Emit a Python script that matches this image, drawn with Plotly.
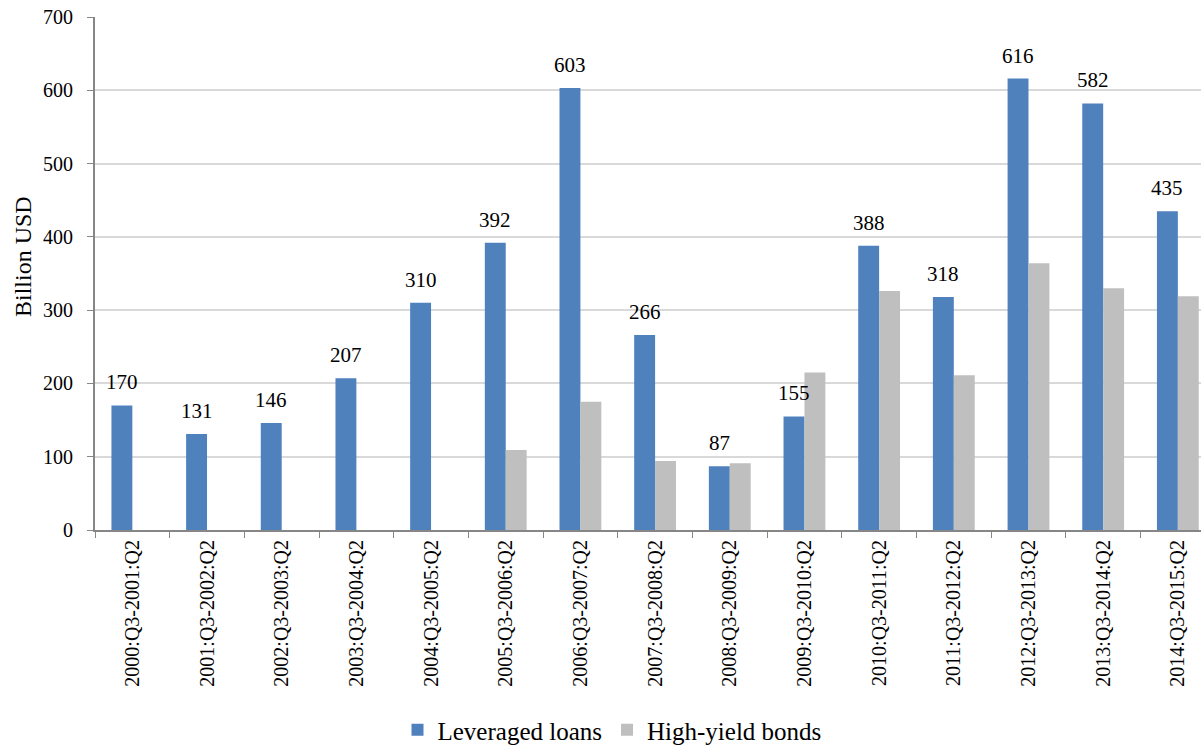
import plotly.graph_objects as go

categories = ["2000:Q3-2001:Q2", "2001:Q3-2002:Q2", "2002:Q3-2003:Q2", "2003:Q3-2004:Q2",
              "2004:Q3-2005:Q2", "2005:Q3-2006:Q2", "2006:Q3-2007:Q2", "2007:Q3-2008:Q2",
              "2008:Q3-2009:Q2", "2009:Q3-2010:Q2", "2010:Q3-2011:Q2", "2011:Q3-2012:Q2",
              "2012:Q3-2013:Q2", "2013:Q3-2014:Q2", "2014:Q3-2015:Q2"]
leveraged_loans = [170, 131, 146, 207, 310, 392, 603, 266, 87, 155, 388, 318, 616, 582, 435]
high_yield_bonds = [None, None, None, None, None, 109, 175, 94, 91, 215, 326, 211, 364, 330, 319]
y_ticks = [0, 100, 200, 300, 400, 500, 600, 700]

FONT = "Liberation Serif"

fig = go.Figure()
fig.add_trace(go.Bar(x=categories, y=leveraged_loans, name="Leveraged loans",
                     marker=dict(color="#4F81BD", line=dict(width=0))))
fig.add_trace(go.Bar(x=categories, y=high_yield_bonds, name="High-yield bonds",
                     marker=dict(color="#BFBFBF", line=dict(width=0))))

plot_left, plot_right, plot_top, plot_bottom = 95, 1201, 17, 530
pw = plot_right - plot_left
ph = plot_bottom - plot_top

annotations = []
for c, v in zip(categories, leveraged_loans):
    annotations.append(dict(x=c, y=v, xref="x", yref="y", text=str(v), showarrow=False,
                            xshift=-10.5, yshift=9, yanchor="bottom",
                            font=dict(family=FONT, size=21, color="black")))
annotations.append(dict(x=(23 - plot_left) / pw, y=(plot_bottom - 257) / ph,
                        xref="paper", yref="paper", text="Billion USD",
                        showarrow=False, textangle=-90, xanchor="center", yanchor="middle",
                        font=dict(family=FONT, size=24, color="black")))

fig.update_layout(
    width=1201, height=753,
    margin=dict(l=plot_left, r=0, t=plot_top, b=753 - plot_bottom, pad=0, autoexpand=False),
    paper_bgcolor="white", plot_bgcolor="white",
    barmode="group", bargap=0.44, bargroupgap=0,
    font=dict(family=FONT, color="black"),
    showlegend=True,
    legend=dict(orientation="h", x=(612 - plot_left) / pw, xanchor="center",
                y=(plot_bottom - 753) / ph, yanchor="bottom",
                font=dict(family=FONT, size=25, color="black"),
                itemwidth=30, tracegroupgap=0, borderwidth=0),
    annotations=annotations,
    xaxis=dict(range=[-0.5, 14.31], tickangle=-90, showline=True, linecolor="#868686",
               linewidth=2, ticks="outside", tickson="boundaries", ticklen=6,
               tickcolor="#868686", tickfont=dict(family=FONT, size=20, color="black"),
               showgrid=False, fixedrange=True, automargin=False),
    yaxis=dict(range=[0, 700], tickvals=y_ticks, showline=True, linecolor="#868686",
               linewidth=2, ticks="outside", ticklen=6, tickcolor="#868686",
               ticklabelstandoff=10,
               gridcolor="#D9D9D9", gridwidth=2, zeroline=False, automargin=False,
               tickfont=dict(family=FONT, size=20, color="black"), fixedrange=True),
)

fig.write_html("out.html")
